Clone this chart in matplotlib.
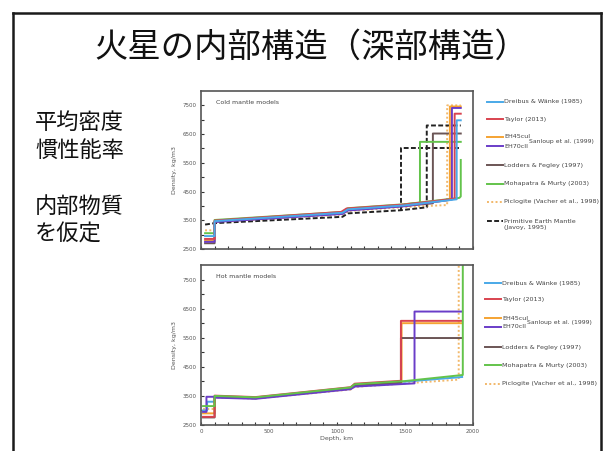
import matplotlib
matplotlib.use("Agg")
import matplotlib.pyplot as plt
from matplotlib.lines import Line2D

plt.rcParams['font.family'] = ['Noto Sans CJK JP', 'DejaVu Sans']

title = "火星の内部構造（深部構造）"
side_text = ["平均密度", "慣性能率", "", "内部物質", "を仮定"]

# ---- cold mantle models: depth (km), density (kg/m3) ----
cold_dreibus_d = [30, 100, 100, 1040, 1080, 1500, 1880, 1880, 1910]
cold_dreibus_r = [2950, 2950, 3470, 3760, 3880, 4020, 4230, 6980, 6980]
cold_taylor_d = [30, 100, 100, 1030, 1070, 1500, 1865, 1865, 1910]
cold_taylor_r = [2850, 2850, 3490, 3790, 3910, 4050, 4250, 7210, 7210]
cold_eh45_d = [30, 100, 100, 1040, 1080, 1500, 1830, 1830, 1910]
cold_eh45_r = [2800, 2800, 3460, 3750, 3870, 4010, 4210, 7460, 7460]
cold_eh70_d = [30, 100, 100, 1040, 1080, 1500, 1845, 1845, 1910]
cold_eh70_r = [2750, 2750, 3440, 3720, 3840, 3990, 4220, 7410, 7410]
cold_lodders_d = [30, 100, 100, 1040, 1080, 1500, 1705, 1705, 1910]
cold_lodders_r = [2700, 2700, 3450, 3740, 3860, 4000, 4090, 6520, 6520]
cold_mohap_d = [30, 100, 100, 1040, 1080, 1500, 1610, 1610, 1910]
cold_mohap_r = [3050, 3050, 3510, 3790, 3920, 4060, 4110, 6230, 6230]
cold_mohap2_d = [1500, 1900, 1910, 1910]
cold_mohap2_r = [4060, 4280, 4330, 5600]
cold_picl_d = [30, 100, 100, 1040, 1080, 1500, 1810, 1810, 1910]
cold_picl_r = [3150, 3150, 3430, 3700, 3820, 3960, 4030, 7500, 7500]
cold_pem_d = [30, 100, 1040, 1080, 1470, 1660, 1660, 1910]
cold_pem_r = [3350, 3400, 3620, 3740, 3850, 3950, 6800, 6800]
cold_pem2_d = [1470, 1470, 1910]
cold_pem2_r = [3850, 6000, 6000]

# ---- hot mantle models ----
hot_dreibus_d = [15, 45, 45, 100, 100, 400, 1100, 1130, 1500, 1920]
hot_dreibus_r = [3000, 3000, 3300, 3300, 3470, 3420, 3770, 3870, 3990, 4150]
hot_taylor_d = [15, 100, 100, 400, 1100, 1130, 1470, 1470, 1920]
hot_taylor_r = [2780, 2780, 3510, 3460, 3800, 3920, 4020, 6080, 6080]
hot_eh45_d = [15, 100, 100, 400, 1100, 1130, 1475, 1475, 1920]
hot_eh45_r = [2900, 2900, 3480, 3430, 3760, 3860, 3960, 6000, 6000]
hot_eh70_d = [15, 40, 40, 100, 100, 400, 1100, 1130, 1570, 1570, 1920]
hot_eh70_r = [2950, 2950, 3470, 3470, 3440, 3400, 3730, 3820, 3930, 6400, 6400]
hot_lodders_d = [15, 100, 100, 400, 1100, 1130, 1470, 1470, 1920]
hot_lodders_r = [2760, 2760, 3460, 3420, 3750, 3850, 3950, 5490, 5490]
hot_mohap_d = [15, 100, 100, 400, 1100, 1130, 1500, 1925, 1925]
hot_mohap_r = [3150, 3150, 3500, 3450, 3790, 3900, 4010, 4220, 8100]
hot_picl_d = [15, 100, 100, 400, 1100, 1130, 1500, 1895, 1895]
hot_picl_r = [3050, 3050, 3450, 3410, 3720, 3810, 3930, 4060, 8100]

blue = '#4aa9e8'
red = '#d9434f'
orange = '#f5a332'
purple = '#6a3dc8'
brown = '#6b5555'
green = '#63c34b'
picl = '#f2b86a'
black = '#222222'

DASH = (0, (2.5, 1.2))
DOT = (0, (1, 1.2))

cold_lines = [
    (cold_picl_d, cold_picl_r, picl, DOT),
    (cold_pem_d, cold_pem_r, black, DASH),
    (cold_pem2_d, cold_pem2_r, black, DASH),
    (cold_lodders_d, cold_lodders_r, brown, '-'),
    (cold_mohap_d, cold_mohap_r, green, '-'),
    (cold_mohap2_d, cold_mohap2_r, green, '-'),
    (cold_eh45_d, cold_eh45_r, orange, '-'),
    (cold_eh70_d, cold_eh70_r, purple, '-'),
    (cold_taylor_d, cold_taylor_r, red, '-'),
    (cold_dreibus_d, cold_dreibus_r, blue, '-'),
]
hot_lines = [
    (hot_picl_d, hot_picl_r, picl, DOT),
    (hot_dreibus_d, hot_dreibus_r, blue, '-'),
    (hot_eh45_d, hot_eh45_r, orange, '-'),
    (hot_lodders_d, hot_lodders_r, brown, '-'),
    (hot_taylor_d, hot_taylor_r, red, '-'),
    (hot_eh70_d, hot_eh70_r, purple, '-'),
    (hot_mohap_d, hot_mohap_r, green, '-'),
]

cold_legend = [("Dreibus & Wänke (1985)", blue, '-', 102),
               ("Taylor (2013)", red, '-', 119),
               ("EH45cul", orange, '-', 137),
               ("EH70cll", purple, '-', 146),
               ("Lodders & Fegley (1997)", brown, '-', 165),
               ("Mohapatra & Murty (2003)", green, '-', 184),
               ("Piclogite (Vacher et al., 1998)", picl, DOT, 202),
               ("Primitive Earth Mantle\n(Javoy, 1995)", black, DASH, 221)]
hot_legend = [("Dreibus & Wänke (1985)", blue, '-', 283),
              ("Taylor (2013)", red, '-', 299),
              ("EH45cul", orange, '-', 318),
              ("EH70cll", purple, '-', 327),
              ("Lodders & Fegley (1997)", brown, '-', 347),
              ("Mohapatra & Murty (2003)", green, '-', 365),
              ("Piclogite (Vacher et al., 1998)", picl, DOT, 384)]

W, H = 612, 451
fig = plt.figure(figsize=(W / 100, H / 100), dpi=100)


def fx(px):
    return px / W


def fy(py):
    return 1 - py / H


# slide border
for xs, ys in [([13, 13], [13, 460]), ([13, 601], [13, 13]), ([601, 601], [13, 460])]:
    fig.add_artist(Line2D([fx(v) for v in xs], [fy(v) for v in ys], color='#1a1a1a', lw=1.8))

fig.text(fx(311), fy(47), title, ha='center', va='center', fontsize=24, color='#111111')
for i, s in enumerate(side_text):
    if s:
        fig.text(fx(35), fy(122 + i * 28), s, ha='left', va='center', fontsize=16, color='#111111')


def draw_panel(box, lines, name, show_x):
    ax = fig.add_axes(box)
    for d, r, c, ls in lines:
        ax.plot(d, r, color=c, ls=ls, lw=1.4)
    ax.set_xlim(0, 2000)
    ax.set_ylim(2500, 8000)
    ax.set_yticks([2500, 3500, 4500, 5500, 6500, 7500])
    ax.set_yticks(range(3000, 8000, 1000), minor=True)
    ax.set_xticks([0, 500, 1000, 1500, 2000])
    ax.set_xticks(range(100, 2000, 100), minor=True)
    ax.tick_params(which='both', direction='in', length=2, width=0.8, color='#333333',
                   labelsize=4, labelcolor='#555555', pad=3, top=False, right=False)
    if not show_x:
        ax.tick_params(axis='x', labelbottom=False)
    else:
        ax.set_xlabel("Depth, km", fontsize=4.5, color='#555555', labelpad=1, family='DejaVu Sans')
    ax.set_ylabel("Density, kg/m3", fontsize=4.5, color='#555555', labelpad=4, family='DejaVu Sans')
    for lab in ax.get_xticklabels() + ax.get_yticklabels():
        lab.set_family('DejaVu Sans')
    for sp in ax.spines.values():
        sp.set_color('#555555')
        sp.set_linewidth(1.2)
    ax.text(0.055, 0.93, name, transform=ax.transAxes, fontsize=4.5, color='#444444',
            va='center', family='DejaVu Sans')
    return ax


draw_panel([fx(201), fy(249), fx(473) - fx(201), fy(91) - fy(249)], cold_lines,
           "Cold mantle models", False)
draw_panel([fx(201), fy(425), fx(473) - fx(201), fy(265) - fy(425)], hot_lines,
           "Hot mantle models", True)


def draw_legend(entries, x0):
    for label, c, ls, y in entries:
        fig.add_artist(Line2D([fx(x0), fx(x0 + 16)], [fy(y), fy(y)], color=c, ls=ls, lw=1.4))
        ty = y + (3.5 if "\n" in label else 0)
        fig.text(fx(x0 + 17), fy(ty), label, fontsize=4.6, color='#444444', va='center',
                 family='DejaVu Sans', linespacing=1.1)
    ys = [e[3] for e in entries if e[0].startswith("EH")]
    fig.text(fx(x0 + 42), fy(sum(ys) / 2), "Sanloup et al. (1999)", fontsize=4.4,
             color='#444444', va='center', family='DejaVu Sans')


draw_legend(cold_legend, 487)
draw_legend(hot_legend, 485)

fig.savefig("out.png", dpi=100, facecolor='white')
